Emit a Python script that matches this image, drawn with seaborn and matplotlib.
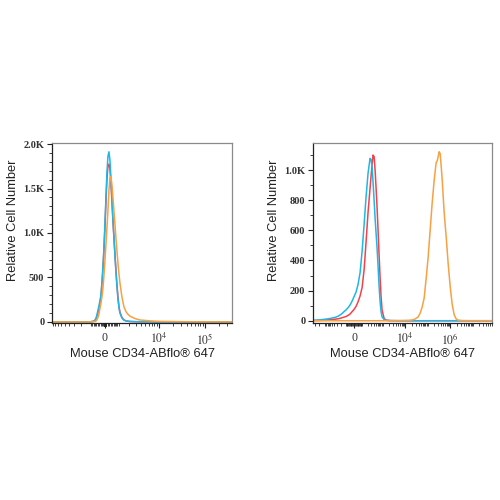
import numpy as np
import pandas as pd
import matplotlib
matplotlib.use("Agg")
import matplotlib.pyplot as plt
import seaborn as sns

# ---------------- data ----------------
# Left panel (isotype / unstained / stained overlap)
left_x = [-9500, -1111, -782, -705, -629, -555, -483, -411, -341, -272, -203, -135, -68, 0,
          68, 135, 203, 272, 341, 411, 483, 555, 629, 705, 782, 861, 943, 1027, 1111,
          1293, 1487, 1700, 1929, 2178, 2870, 3770, 6360, 10560, 28900, 78600, 390000]
left_red = [0, 0, 8, 16, 30, 60, 100, 150, 210, 280, 420, 590, 800, 1060,
            1350, 1600, 1750, 1774, 1720, 1560, 1350, 1140, 950, 760, 580, 420, 280, 175, 110,
            50, 22, 12, 8, 5, 3, 2, 1, 0, 0, 0, 0]
left_blue = [0, 0, 10, 20, 40, 80, 130, 180, 240, 300, 450, 620, 830, 1100,
             1400, 1680, 1860, 1913, 1820, 1620, 1380, 1150, 950, 750, 560, 400, 260, 160, 100,
             45, 20, 12, 8, 5, 3, 2, 1, 0, 0, 0, 0]
left_orange = [0, 0, 3, 6, 10, 25, 50, 90, 150, 210, 280, 380, 520, 690,
               870, 1060, 1250, 1480, 1620, 1635, 1540, 1400, 1250, 1100, 940, 800, 660, 540, 440,
               280, 170, 115, 85, 65, 38, 22, 12, 6, 3, 1, 0]

# Right panel
right_x = [-3590, -1750, -1048, -625, -369, -267, -213, -168, -132, -99, -71, -45, -22,
           0, 22, 45, 71, 99, 132, 168, 213,
           267, 298, 333, 369, 412, 458, 508, 564, 625, 693, 767, 851, 946,
           1166, 1430, 2150, 5980,
           16600, 25000, 37800, 46300, 56900, 69900, 85800, 105000, 129000, 158500, 194000, 238600,
           264300, 292900, 324000, 359000, 397500, 440600,
           540500, 663000, 813800, 998000, 1225000, 1503000, 1845000, 2270000,
           3400000, 7700000, 72000000]
right_blue = [3, 6, 10, 15, 22, 30, 38, 48, 60, 72, 86, 105, 130,
              160, 190, 240, 320, 460, 640, 820, 980,
              1078, 1070, 1020, 920, 800, 680, 580, 480, 360, 230, 130, 60, 25,
              8, 3, 1, 0,
              0, 0, 0, 0, 0, 0, 0, 0, 0, 0, 0, 0,
              0, 0, 0, 0, 0, 0,
              0, 0, 0, 0, 0, 0, 0, 0,
              0, 0, 0]
right_red = [1, 2, 4, 7, 10, 13, 16, 20, 24, 28, 35, 45, 60,
             75, 95, 125, 165, 220, 340, 520, 720,
             880, 960, 1040, 1100, 1090, 1000, 880, 750, 600, 440, 290, 160, 70,
             15, 4, 1, 0,
             0, 0, 0, 0, 0, 0, 0, 0, 0, 0, 0, 0,
             0, 0, 0, 0, 0, 0,
             0, 0, 0, 0, 0, 0, 0, 0,
             0, 0, 0]
right_orange = [0, 0, 0, 0, 0, 0, 0, 0, 0, 0, 0, 0, 0,
                0, 0, 0, 0, 0, 0, 0, 0,
                0, 0, 0, 0, 0, 0, 0, 0, 0, 0, 0, 0, 0,
                0, 0, 0, 1,
                3, 8, 25, 50, 90, 150, 280, 420, 600, 780, 930, 1050,
                1060, 1090, 1122, 1110, 1030, 940,
                720, 560, 380, 230, 110, 40, 12, 4,
                1, 0, 0]

series_names = ["red", "blue", "orange"]
palette = {"red": "#F2434B", "blue": "#1FB6E8", "orange": "#F7A143"}

left_ticks = [0, 1e4, 1e5]
left_ticklabels = ["0", "$10^4$", "$10^5$"]
right_ticks = [0, 1e4, 1e6]
right_ticklabels = ["0", "$10^4$", "$10^6$"]
left_yticks = [0, 500, 1000, 1500, 2000]
left_yticklabels = ["0", "500", "1.0K", "1.5K", "2.0K"]
right_yticks = [0, 200, 400, 600, 800, 1000]
right_yticklabels = ["0", "200", "400", "600", "800", "1.0K"]

xlabel = "Mouse CD34-ABflo® 647"
ylabel = "Relative Cell Number"

# ---------------- plotting ----------------
sns.set_style("white")
plt.rcParams["font.family"] = ["Liberation Sans", "DejaVu Sans"]
plt.rcParams["mathtext.fontset"] = "stix"

fig = plt.figure(figsize=(5, 5), dpi=100)
ax1 = fig.add_axes([0.104, 0.354, 0.360, 0.360])
ax2 = fig.add_axes([0.626, 0.354, 0.358, 0.360])


def make_df(x, r, b, o):
    frames = []
    for name, vals in zip(series_names, [r, b, o]):
        frames.append(pd.DataFrame({"x": x, "count": vals, "series": name}))
    return pd.concat(frames, ignore_index=True)


def minor_ticks(lo, hi, top_exp):
    t = []
    for k in range(1, top_exp + 1):
        for m in range(1, 10):
            v = m * 10 ** k
            if lo <= v <= hi:
                t.append(v)
            if lo <= -v <= hi:
                t.append(-v)
    return sorted(t)


def style_axis(ax, c, xlim, ylim, xt, xtl, yt, ytl, yminor_step):
    fwd = lambda x: np.arcsinh(np.asarray(x, dtype=float) / c)
    inv = lambda u: c * np.sinh(np.asarray(u, dtype=float))
    ax.set_xscale("function", functions=(fwd, inv))
    ax.set_xlim(*xlim)
    ax.set_ylim(*ylim)
    ax.set_xticks(xt)
    ax.set_xticklabels(xtl, family=["Liberation Serif", "DejaVu Serif"], fontsize=8.5,
                       color="#333333")
    ax.set_xticks([v for v in minor_ticks(xlim[0], xlim[1], 8) if v not in xt], minor=True)
    ax.set_yticks(yt)
    ax.set_yticklabels(ytl, family=["Liberation Serif", "DejaVu Serif"], fontsize=7.5,
                       fontweight="bold", color="#333333")
    ax.set_yticks(np.arange(0, ylim[1], yminor_step), minor=True)
    ax.tick_params(axis="both", which="major", direction="out", length=3.5, width=0.8,
                   color="#222222", bottom=True, left=True, pad=2)
    ax.tick_params(axis="both", which="minor", direction="out", length=2, width=0.6,
                   color="#222222", bottom=True, left=True)
    ax.tick_params(axis="x", which="major", labelsize=8.5, pad=3)
    for s in ["left", "bottom"]:
        ax.spines[s].set_color("#222222")
        ax.spines[s].set_linewidth(0.9)
    for s in ["top", "right"]:
        ax.spines[s].set_color("#8a8a8a")
        ax.spines[s].set_linewidth(0.9)
    ax.set_xlabel(xlabel, fontsize=9.3, labelpad=1, color="#222222")
    ax.set_ylabel(ylabel, fontsize=9.3, labelpad=3, color="#222222", y=0.57)
    ax.grid(False)


df1 = make_df(left_x, left_red, left_blue, left_orange)
df2 = make_df(right_x, right_red, right_blue, right_orange)

for ax, df in [(ax1, df1), (ax2, df2)]:
    sns.lineplot(data=df, x="x", y="count", hue="series", hue_order=series_names,
                 palette=palette, estimator=None, sort=False, legend=False,
                 linewidth=1.1, ax=ax)

style_axis(ax1, 1350, (-9500, 390000), (-12, 2012), left_ticks, left_ticklabels,
           left_yticks, left_yticklabels, 100)
style_axis(ax2, 108, (-3590, 7.2e7), (-15, 1180), right_ticks, right_ticklabels,
           right_yticks, right_yticklabels, 100)

fig.savefig("out.png", dpi=100)
